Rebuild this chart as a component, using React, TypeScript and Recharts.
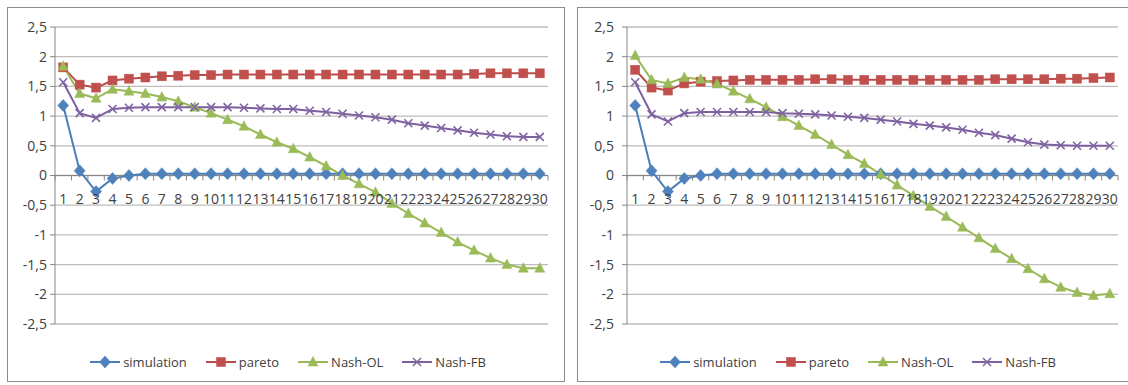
import React from 'react';
import { LineChart, Line, XAxis, YAxis, CartesianGrid, ReferenceLine, Legend } from 'recharts';

const categories = ['1', '2', '3', '4', '5', '6', '7', '8', '9', '10', '11', '12', '13', '14', '15', '16', '17', '18', '19', '20', '21', '22', '23', '24', '25', '26', '27', '28', '29', '30'];
const yTicks = [-2.5, -2, -1.5, -1, -0.5, 0, 0.5, 1, 1.5, 2, 2.5];
const seriesNames = ['simulation', 'pareto', 'Nash-OL', 'Nash-FB'];

// Left chart
const simulationLeft = [1.18, 0.08, -0.27, -0.05, 0.0, 0.03, 0.03, 0.03, 0.03, 0.03, 0.03, 0.03, 0.03, 0.03, 0.03, 0.03, 0.03, 0.03, 0.03, 0.03, 0.03, 0.03, 0.03, 0.03, 0.03, 0.03, 0.03, 0.03, 0.03, 0.03];
const paretoLeft = [1.82, 1.53, 1.48, 1.6, 1.63, 1.65, 1.67, 1.68, 1.69, 1.69, 1.7, 1.7, 1.7, 1.7, 1.7, 1.7, 1.7, 1.7, 1.7, 1.7, 1.7, 1.7, 1.7, 1.7, 1.7, 1.71, 1.72, 1.72, 1.72, 1.72];
const nashOLLeft = [1.84, 1.38, 1.3, 1.45, 1.42, 1.38, 1.32, 1.25, 1.15, 1.05, 0.94, 0.83, 0.69, 0.56, 0.45, 0.31, 0.16, 0.0, -0.14, -0.28, -0.47, -0.64, -0.8, -0.96, -1.12, -1.26, -1.39, -1.5, -1.56, -1.56];
const nashFBLeft = [1.57, 1.05, 0.97, 1.12, 1.14, 1.15, 1.15, 1.15, 1.15, 1.15, 1.15, 1.14, 1.13, 1.12, 1.12, 1.09, 1.07, 1.04, 1.01, 0.98, 0.94, 0.88, 0.84, 0.8, 0.76, 0.72, 0.69, 0.66, 0.65, 0.65];

// Right chart
const simulationRight = [1.18, 0.08, -0.27, -0.05, 0.0, 0.03, 0.03, 0.03, 0.03, 0.03, 0.03, 0.03, 0.03, 0.03, 0.03, 0.03, 0.03, 0.03, 0.03, 0.03, 0.03, 0.03, 0.03, 0.03, 0.03, 0.03, 0.03, 0.03, 0.03, 0.03];
const paretoRight = [1.78, 1.48, 1.43, 1.55, 1.58, 1.59, 1.6, 1.61, 1.61, 1.61, 1.61, 1.62, 1.62, 1.61, 1.61, 1.61, 1.61, 1.61, 1.61, 1.61, 1.61, 1.61, 1.62, 1.62, 1.62, 1.62, 1.63, 1.63, 1.64, 1.65];
const nashOLRight = [2.02, 1.61, 1.55, 1.65, 1.62, 1.54, 1.42, 1.29, 1.15, 0.99, 0.84, 0.69, 0.52, 0.35, 0.2, 0.02, -0.16, -0.34, -0.52, -0.69, -0.87, -1.05, -1.23, -1.4, -1.57, -1.74, -1.88, -1.97, -2.02, -1.99];
const nashFBRight = [1.57, 1.03, 0.91, 1.05, 1.07, 1.07, 1.07, 1.07, 1.07, 1.05, 1.04, 1.03, 1.01, 0.99, 0.97, 0.94, 0.91, 0.87, 0.84, 0.81, 0.77, 0.72, 0.68, 0.62, 0.56, 0.52, 0.51, 0.5, 0.5, 0.5];

const FONT = '"Open Sans", "Noto Sans", sans-serif';
const TEXT = '#404040';
const AXIS = '#868686';
const GRID = '#bdbdbd';

const LINE_COLORS: Record<string, string> = {
  simulation: '#4A7EBB',
  pareto: '#BE4B48',
  'Nash-OL': '#98B954',
  'Nash-FB': '#7D60A0',
};
const MARK_COLORS: Record<string, string> = {
  simulation: '#4F81BD',
  pareto: '#C0504D',
  'Nash-OL': '#9BBB59',
  'Nash-FB': '#8064A2',
};

function buildRows(sim: number[], par: number[], ol: number[], fb: number[]) {
  return categories.map((c, i) => ({
    cat: c,
    simulation: sim[i],
    pareto: par[i],
    'Nash-OL': ol[i],
    'Nash-FB': fb[i],
  }));
}

function Marker({ name, cx, cy }: { name: string; cx: number; cy: number }) {
  const fill = MARK_COLORS[name];
  if (name === 'simulation') {
    return <polygon points={`${cx},${cy - 6} ${cx + 5.5},${cy} ${cx},${cy + 6} ${cx - 5.5},${cy}`} fill={fill} stroke={fill} strokeWidth={0.5} />;
  }
  if (name === 'pareto') {
    return <rect x={cx - 4.5} y={cy - 4.5} width={9} height={9} fill={fill} stroke={fill} strokeWidth={0.5} />;
  }
  if (name === 'Nash-OL') {
    return <polygon points={`${cx},${cy - 5.5} ${cx + 5},${cy + 4} ${cx - 5},${cy + 4}`} fill={fill} stroke={fill} strokeWidth={0.5} />;
  }
  return (
    <g stroke={fill} strokeWidth={1.6}>
      <line x1={cx - 4} y1={cy - 4} x2={cx + 4} y2={cy + 4} />
      <line x1={cx - 4} y1={cy + 4} x2={cx + 4} y2={cy - 4} />
    </g>
  );
}

const makeDot = (name: string) => (p: any) => {
  if (p.cx == null || p.cy == null) return <g key={`${name}-${p.index}`} />;
  return (
    <g key={`${name}-${p.index}`}>
      <Marker name={name} cx={p.cx} cy={p.cy} />
    </g>
  );
};

const PANEL_W = 558;
const PANEL_H = 375;
const INNER_W = PANEL_W - 2;
const INNER_H = PANEL_H - 2;
const M_TOP = 19;
const X_H = 1;
const M_BOTTOM = 56;
const M_RIGHT = 16;
const PLOT_H = INNER_H - M_TOP - M_BOTTOM - X_H;
const ZERO_Y = M_TOP + PLOT_H / 2;

function LegendContent() {
  return (
    <div style={{ display: 'flex', justifyContent: 'center', alignItems: 'center', fontFamily: FONT, fontSize: 13, color: TEXT }}>
      {seriesNames.map((n, i) => (
        <div key={n} style={{ display: 'flex', alignItems: 'center', marginLeft: i === 0 ? 0 : 19 }}>
          <svg width={30} height={14} style={{ marginRight: 3 }}>
            <line x1={0} y1={7} x2={30} y2={7} stroke={LINE_COLORS[n]} strokeWidth={2} />
            <Marker name={n} cx={15} cy={7} />
          </svg>
          <span>{n}</span>
        </div>
      ))}
    </div>
  );
}

function Panel({ rows, left, yWidth, tickMargin, legendShift }: { rows: any[]; left: number; yWidth: number; tickMargin: number; legendShift: number }) {
  const band = (INNER_W - yWidth - M_RIGHT) / categories.length;
  const XTick = (props: any) => {
    const { x, payload, index } = props;
    return (
      <g>
        <line x1={x - band / 2} y1={ZERO_Y} x2={x - band / 2} y2={ZERO_Y + 5} stroke={AXIS} />
        {index === categories.length - 1 && <line x1={x + band / 2} y1={ZERO_Y} x2={x + band / 2} y2={ZERO_Y + 5} stroke={AXIS} />}
        <text x={x} y={ZERO_Y + 28} textAnchor="middle" fontSize={14} fill={TEXT} fontFamily={FONT}>
          {payload.value}
        </text>
      </g>
    );
  };
  return (
    <div
      style={{
        position: 'absolute',
        left,
        top: 7,
        width: PANEL_W,
        height: PANEL_H,
        border: '1px solid #8c8c8c',
        boxSizing: 'border-box',
        background: '#fff',
      }}
    >
      <LineChart width={INNER_W} height={INNER_H} data={rows} margin={{ top: M_TOP, right: M_RIGHT, bottom: M_BOTTOM, left: 0 }}>
        <CartesianGrid vertical={false} stroke={GRID} strokeWidth={1.3} />
        <XAxis
          dataKey="cat"
          height={X_H}
          interval={0}
          axisLine={false}
          tickLine={false}
          tick={XTick}
          padding={{ left: band / 2, right: band / 2 }}
        />
        <YAxis
          width={yWidth}
          domain={[-2.5, 2.5]}
          ticks={yTicks}
          interval={0}
          tickFormatter={(v: number) => String(v).replace('.', ',')}
          tick={{ fontSize: 14, fill: TEXT, fontFamily: FONT }}
          stroke={AXIS}
          tickSize={5}
          tickMargin={tickMargin}
        />
        <ReferenceLine y={0} stroke={AXIS} strokeWidth={1} />
        {seriesNames.map((n) => (
          <Line
            key={n}
            dataKey={n}
            type="linear"
            stroke={LINE_COLORS[n]}
            strokeWidth={2}
            dot={makeDot(n)}
            activeDot={false}
            isAnimationActive={false}
          />
        ))}
        <Legend
          layout="horizontal"
          verticalAlign="middle"
          align="center"
          wrapperStyle={{ left: legendShift, top: 345, width: INNER_W }}
          content={() => <LegendContent />}
        />
      </LineChart>
    </div>
  );
}

export default function App() {
  const leftRows = buildRows(simulationLeft, paretoLeft, nashOLLeft, nashFBLeft);
  const rightRows = buildRows(simulationRight, paretoRight, nashOLRight, nashFBRight);
  return (
    <div style={{ position: 'fixed', left: 0, top: 0, width: 1128, height: 385, overflow: 'hidden', background: '#fff' }}>
      <Panel rows={leftRows} left={7} yWidth={47} tickMargin={3} legendShift={2} />
      <Panel rows={rightRows} left={577} yWidth={49} tickMargin={8} legendShift={2} />
    </div>
  );
}
